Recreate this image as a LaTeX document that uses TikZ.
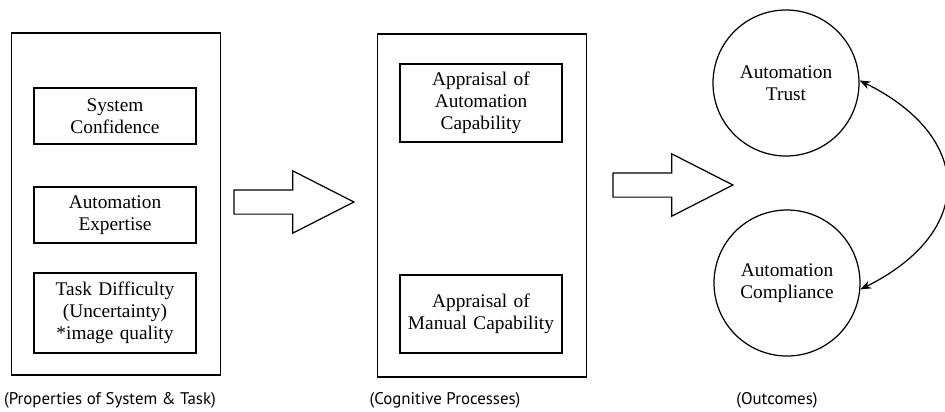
\documentclass[tikz,border=0pt]{standalone}
\usepackage{fontspec}
\setmainfont{Liberation Serif}
\newfontfamily\capfont{PT Sans}
\usetikzlibrary{arrows.meta,positioning,shapes.arrows}

\begin{document}
\begin{tikzpicture}[>=Stealth,
  group/.style={draw,line width=1.1pt,minimum width=4.18cm,minimum height=6.85cm},
  factor/.style={draw,line width=0.6pt,text width=3.1cm,align=center,inner sep=2pt,
    font=\fontsize{11}{12.6}\selectfont},
  outcome/.style={circle,draw,line width=0.7pt,minimum size=2.92cm,align=center,
    font=\fontsize{11}{12.6}\selectfont},
  flow/.style={single arrow,draw,line width=0.7pt,minimum height=2.4cm,inner xsep=0pt,
    inner ysep=0.23cm,single arrow head extend=0.38cm,single arrow tip angle=54},
  caplabel/.style={font=\capfont\fontsize{9.6}{11}\selectfont}]

\useasboundingbox (0,0) rectangle (18.9,-8.22);

% system and task
\node[group] (props) at (2.32,-4.08) {};
\node[factor,minimum height=1.12cm] (conf) at (2.3,-2.32) {System\\Confidence};
\node[factor,minimum height=1.12cm] (expert) at (2.3,-4.3) {Automation\\Expertise};
\node[factor,minimum height=1.6cm] (diff) at (2.3,-6.26) {Task Difficulty\\(Uncertainty)\\{*}image quality};

\node[flow] (arrA) at (5.64,-4.04) {};

% cognitive processes
\node[group] (cogn) at (9.64,-4.11) {};
\node[factor,minimum height=1.56cm] (autocap) at (9.62,-2.06) {Appraisal of\\Automation\\Capability};
\node[factor,minimum height=1.56cm] (mancap) at (9.62,-6.28) {Appraisal of\\Manual Capability};

\node[flow] (arrB) at (13.22,-3.7) {};

% outcomes
\node[outcome] (trust) at (15.72,-1.66) {Automation\\Trust};
\node[outcome] (comp) at (15.74,-5.66) {Automation\\Compliance};
\draw[<->,line width=0.7pt] (trust.2) .. controls (19.5,-2.75) and (19.5,-4.65) .. (comp.-5);

\node[caplabel] (capA) at (2.2,-8.0) {(Properties of System \& Task)};
\node[caplabel] (capB) at (8.9,-8.0) {(Cognitive Processes)};
\node[caplabel] (capC) at (15.54,-8.0) {(Outcomes)};
\end{tikzpicture}
\end{document}
